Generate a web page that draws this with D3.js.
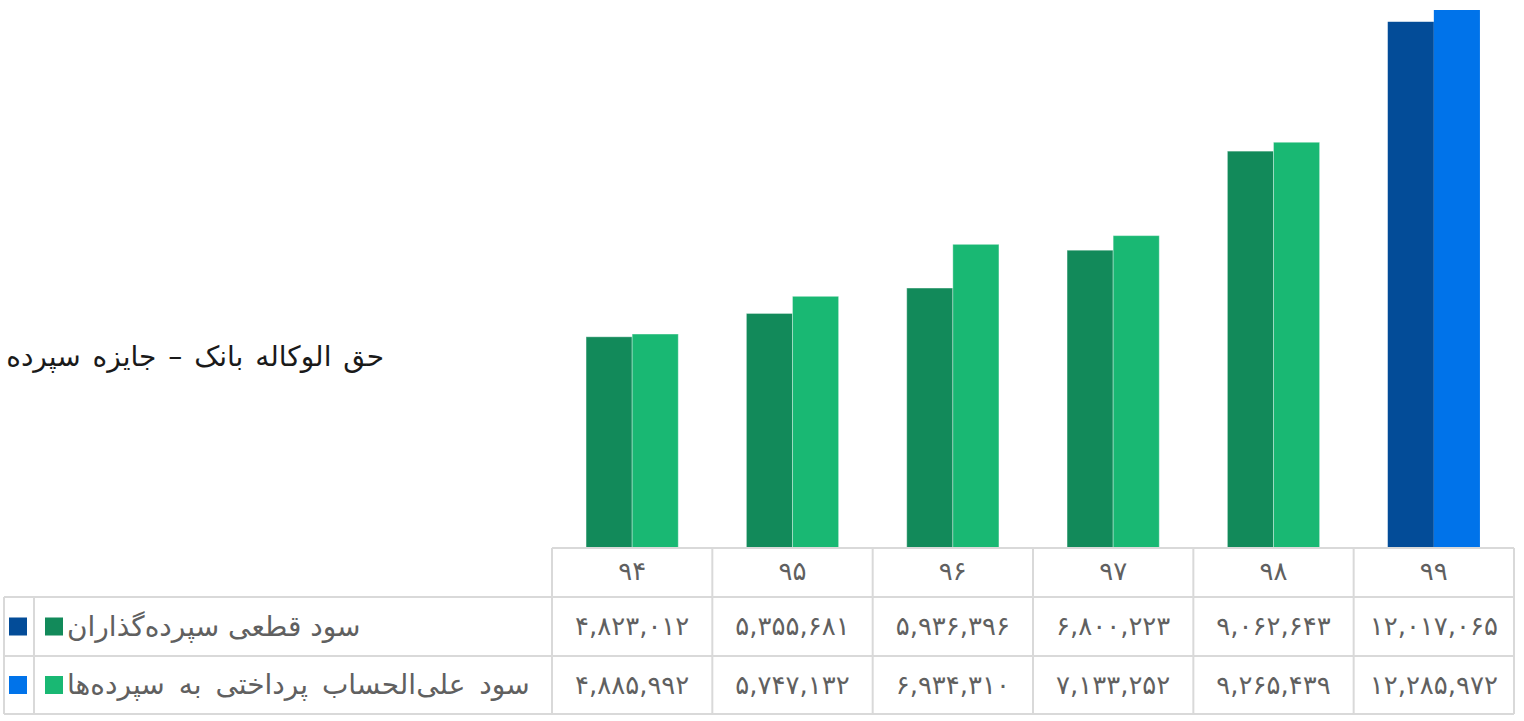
<!DOCTYPE html>
<html><head><meta charset="utf-8">
<script src="https://cdn.jsdelivr.net/npm/d3@7"></script>
<style>html,body{margin:0;padding:0;background:#fff;}svg{display:block;font-family:"DejaVu Sans",sans-serif;}</style>
</head><body>
<svg id="c" width="1524" height="721"></svg>
<script>
const categories = ["94","95","96","97","98","99"];
const seriesNames = ["سود قطعی سپرده\u200cگذاران","سود علی\u200cالحساب پرداختی به سپرده\u200cها"];
const series1 = [4823012,5355681,5936396,6800223,9062643,12017065];
const series2 = [4885992,5747132,6934310,7133252,9265439,12285972];
const title = "حق الوکاله بانک – جایزه سپرده";
const greenColors = ["#128a5a","#19b873"];
const blueColors = ["#034c98","#0073ea"];

const fa = s => String(s).replace(/[0-9]/g, d => "۰۱۲۳۴۵۶۷۸۹"[+d]);
const fmt = d3.format(",");

const svg = d3.select("#c");
const gridColor = "#d9d9d9";
const textColor = "#606060";
const tableLeft = 552, tableRight = 1514, baseY = 548;
const rowY = [548, 597, 656, 714];

const x0 = d3.scaleBand().domain(categories).range([tableLeft, tableRight]).padding(0);
const bw = x0.bandwidth();
const x1 = d3.scaleBand().domain([0,1]).range([bw*0.2125, bw*0.7875]).padding(0);
const y = d3.scaleLinear().domain([0, d3.max(series2)]).range([baseY, 10]);

const data = categories.map((c,i)=>({cat:c, vals:[series1[i], series2[i]], last: i===categories.length-1}));

// bars
const g = svg.append("g");
data.forEach(d=>{
  const grp = g.append("g").attr("transform",`translate(${x0(d.cat)},0)`);
  d.vals.forEach((v,k)=>{
    grp.append("rect")
      .attr("x", x1(k)).attr("width", x1.bandwidth())
      .attr("y", y(v)).attr("height", y(0)-y(v))
      .attr("fill", d.last ? blueColors[k] : greenColors[k])
      .attr("stroke", d.last ? "none" : "rgba(255,255,255,0.35)")
      .attr("stroke-width", 1);
  });
});

// title
svg.append("text").attr("x", 384).attr("y", 366).attr("text-anchor","end")
  .attr("font-size", 28).attr("word-spacing", 3).attr("fill","#1a1a1a").text(title);

// table grid
const lines = svg.append("g").attr("stroke", gridColor).attr("stroke-width", 2).attr("fill","none");
rowY.forEach((yy,i)=>{
  lines.append("line").attr("x1", i===0 ? tableLeft : 4).attr("x2", tableRight).attr("y1", yy).attr("y2", yy);
});
categories.forEach(c=>{
  lines.append("line").attr("x1", x0(c)).attr("x2", x0(c)).attr("y1", rowY[0]).attr("y2", rowY[3]);
});
lines.append("line").attr("x1", tableRight).attr("x2", tableRight).attr("y1", rowY[0]).attr("y2", rowY[3]);
lines.append("line").attr("x1", 4).attr("x2", 4).attr("y1", rowY[1]).attr("y2", rowY[3]);
lines.append("line").attr("x1", 34).attr("x2", 34).attr("y1", rowY[1]).attr("y2", rowY[3]);

// header labels
svg.append("g").selectAll("text").data(categories).join("text")
  .attr("x", d=>x0(d)+bw/2).attr("y", 580).attr("text-anchor","middle")
  .attr("font-size", 26).attr("fill",textColor).text(d=>fa(d));

// values
[series1, series2].forEach((s,k)=>{
  svg.append("g").selectAll("text").data(s).join("text")
    .attr("x", (d,i)=>x0(categories[i])+bw/2).attr("y", rowY[k+1]+38).attr("text-anchor","middle")
    .attr("font-size", 26).attr("fill",textColor).text(d=>fa(fmt(d)));
});

// legend rows
seriesNames.forEach((n,k)=>{
  const cy = (rowY[k+1]+rowY[k+2])/2;
  svg.append("rect").attr("x", 9).attr("y", cy-9).attr("width", 18).attr("height", 18).attr("fill", blueColors[k]);
  svg.append("rect").attr("x", 45).attr("y", cy-9).attr("width", 18).attr("height", 18).attr("fill", greenColors[k]);
  svg.append("text").attr("x", 67).attr("y", cy+9).attr("text-anchor", "start")
    .attr("font-size", 28).attr("word-spacing", k===1 ? 5 : 0).attr("fill",textColor).text(n);
});
</script>
</body></html>
